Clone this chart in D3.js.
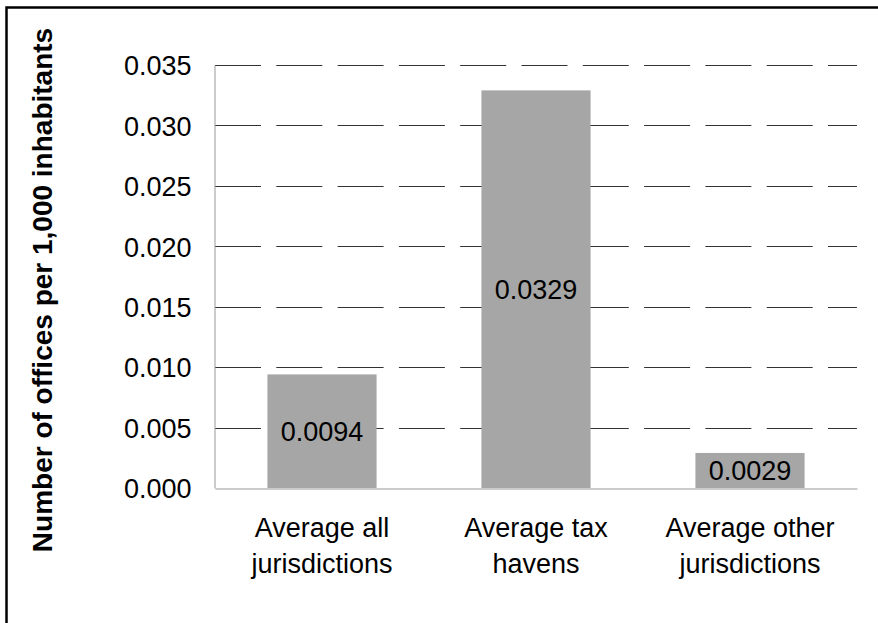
<!DOCTYPE html>
<html>
<head>
<meta charset="utf-8">
<script src="https://cdn.jsdelivr.net/npm/d3@7"></script>
<style>
  html, body { margin: 0; padding: 0; background: #fff; }
  svg { display: block; }
  text { font-family: "Liberation Sans", Arial, Helvetica, sans-serif; fill: #000; }
</style>
</head>
<body>
<svg id="chart" width="878" height="623"></svg>
<script>
// Offices per 1,000 inhabitants, by group of jurisdictions
const categories = [
  ["Average all", "jurisdictions"],
  ["Average tax", "havens"],
  ["Average other", "jurisdictions"]
];
const values = [0.0094, 0.0329, 0.0029];
const yTicks = [0, 0.005, 0.010, 0.015, 0.020, 0.025, 0.030, 0.035];
const yTitle = "Number of offices per 1,000 inhabitants";

const svg = d3.select("#chart");
const plot = { left: 215, right: 857, top: 65, bottom: 488 };
const fontSize = 27;

// outer frame
svg.append("rect")
  .attr("x", 6.5).attr("y", 7.5)
  .attr("width", 1000).attr("height", 1000)
  .attr("fill", "none")
  .attr("stroke", "#000")
  .attr("stroke-width", 2.5);

const keys = categories.map(c => c.join(" "));

const x = d3.scaleBand()
  .domain(keys)
  .range([plot.left, plot.right])
  .paddingInner(0.49)
  .paddingOuter(0.245);

const y = d3.scaleLinear()
  .domain([0, 0.035])
  .range([plot.bottom, plot.top]);

// dashed gridlines
svg.append("g")
  .selectAll("line")
  .data(yTicks.filter(t => t > 0))
  .join("line")
  .attr("x1", plot.left)
  .attr("x2", plot.right)
  .attr("y1", d => Math.round(y(d)) + 0.5)
  .attr("y2", d => Math.round(y(d)) + 0.5)
  .attr("stroke", "#333")
  .attr("stroke-width", 1)
  .attr("stroke-dasharray", "46,15.3");

// bars
svg.append("g")
  .selectAll("rect")
  .data(values)
  .join("rect")
  .attr("x", (d, i) => x(keys[i]))
  .attr("width", x.bandwidth())
  .attr("y", d => y(d))
  .attr("height", d => y(0) - y(d))
  .attr("fill", "#a6a6a6");

// value labels centred inside each bar
svg.append("g")
  .selectAll("text")
  .data(values)
  .join("text")
  .attr("x", (d, i) => x(keys[i]) + x.bandwidth() / 2)
  .attr("y", d => (y(d) + y(0)) / 2)
  .attr("dy", "0.36em")
  .attr("text-anchor", "middle")
  .attr("font-size", fontSize)
  .text(d => d3.format(".4f")(d));

// y axis
const yAxis = svg.append("g")
  .attr("transform", `translate(${plot.left - 0.5},0)`)
  .call(d3.axisLeft(y).tickValues(yTicks).tickFormat(d3.format(".3f")).tickSize(0).tickPadding(23));
yAxis.select(".domain").attr("stroke", "#999").attr("stroke-width", 1);
yAxis.selectAll("text")
  .attr("font-size", fontSize)
  .attr("font-family", "Liberation Sans, Arial, sans-serif")
  .attr("fill", "#000")
  .attr("dy", "0.36em");

// x axis
const xAxis = svg.append("g")
  .attr("transform", `translate(0,${plot.bottom + 0.5})`)
  .call(d3.axisBottom(x).tickSize(0).tickFormat(() => ""));
xAxis.select(".domain").attr("stroke", "#999").attr("stroke-width", 1);

// two-line category labels
const catLabels = svg.append("g")
  .selectAll("text")
  .data(categories)
  .join("text")
  .attr("x", (d, i) => x(keys[i]) + x.bandwidth() / 2)
  .attr("y", 537)
  .attr("text-anchor", "middle")
  .attr("font-size", fontSize);
catLabels.each(function(d) {
  const t = d3.select(this);
  d.forEach((line, j) => {
    t.append("tspan")
      .attr("x", t.attr("x"))
      .attr("dy", j === 0 ? 0 : 36)
      .text(line);
  });
});

// y axis title
svg.append("text")
  .attr("transform", "translate(52,290) rotate(-90)")
  .attr("text-anchor", "middle")
  .attr("font-size", 28)
  .attr("font-weight", "bold")
  .text(yTitle);
</script>
</body>
</html>
